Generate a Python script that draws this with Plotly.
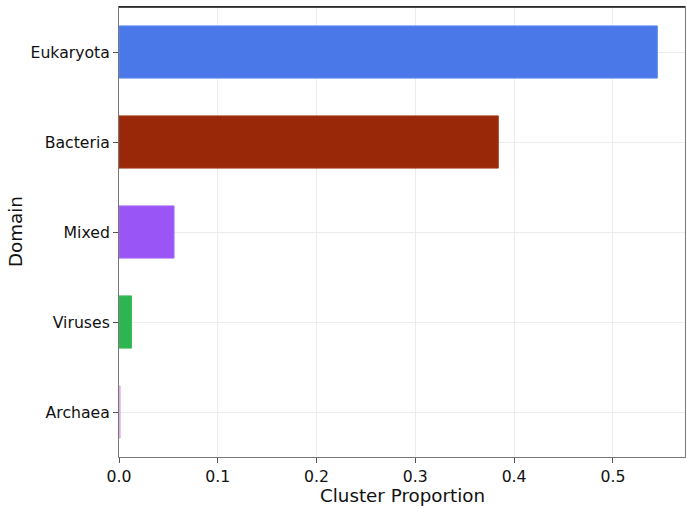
import plotly.graph_objects as go

domains = ["Eukaryota", "Bacteria", "Mixed", "Viruses", "Archaea"]
proportions = [0.545, 0.384, 0.0557, 0.0127, 0.0012]
colors = ["#4b78e8", "#992808", "#9a55f7", "#2eb450", "#d9a2e3"]
edge_colors = ["#5b8cf0", "#a83a18", "#a868f8", "#3dbd5e", "#e0b2ea"]
x_ticks = [0.0, 0.1, 0.2, 0.3, 0.4, 0.5]

fig = go.Figure(
    go.Bar(
        y=domains,
        x=proportions,
        orientation="h",
        marker=dict(color=colors, line=dict(color=edge_colors, width=1)),
        width=0.58,
    )
)

axis_font = dict(family="DejaVu Sans", size=15.7, color="#111111")
title_font = dict(family="DejaVu Sans", size=18.3, color="#111111")

fig.update_layout(
    width=686,
    height=508,
    margin=dict(l=119, r=1, t=7, b=51),
    paper_bgcolor="white",
    plot_bgcolor="white",
    showlegend=False,
    xaxis=dict(
        range=[0, 0.573],
        tickvals=x_ticks,
        ticktext=[f"{v:.1f}" for v in x_ticks],
        tickfont=axis_font,
        ticks="outside",
        ticklen=5,
        tickcolor="#555555",
        showgrid=True,
        gridcolor="#ececec",
        showline=True,
        linecolor="#777777",
        linewidth=1,
        mirror=True,
        zeroline=False,
    ),
    yaxis=dict(
        categoryorder="array",
        categoryarray=domains[::-1],
        range=[-0.5, 4.5],
        tickfont=axis_font,
        ticks="outside",
        ticklen=5,
        tickcolor="#555555",
        showgrid=True,
        gridcolor="#ececec",
        showline=True,
        linecolor="#777777",
        linewidth=1,
        mirror=True,
        zeroline=False,
    ),
)

# axis titles placed relative to the plotting frame
fig.add_annotation(text="Cluster Proportion", xref="paper", yref="paper",
                   x=0.5, y=0, yshift=-38, xanchor="center", yanchor="middle",
                   showarrow=False, font=title_font)
fig.add_annotation(text="Domain", xref="paper", yref="paper",
                   x=0, y=0.5, xshift=-104, xanchor="center", yanchor="middle",
                   textangle=-90, showarrow=False, font=title_font)

# darker top border of the plotting frame
fig.add_shape(type="line", xref="paper", yref="paper", x0=0, x1=1, y0=1, y1=1,
              line=dict(color="#111111", width=1.5))

fig.write_html("out.html")
